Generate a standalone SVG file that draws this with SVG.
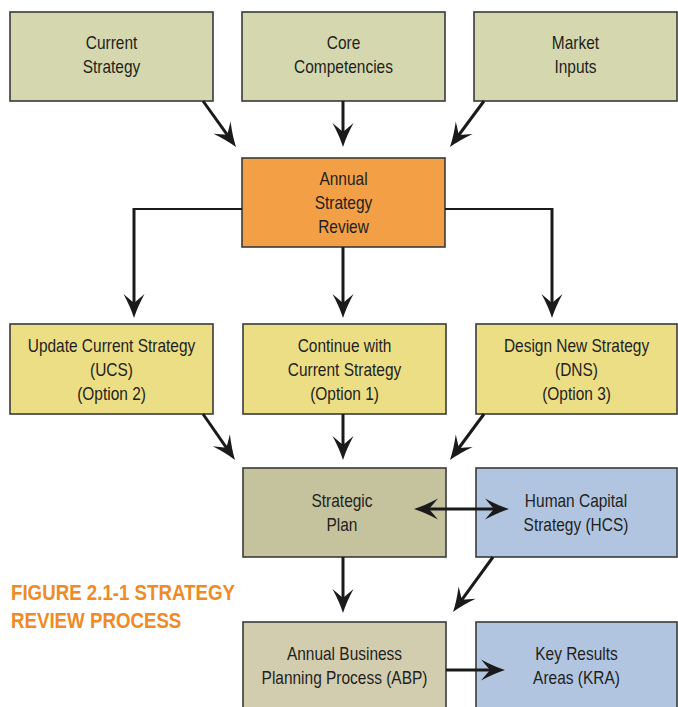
<svg xmlns="http://www.w3.org/2000/svg" width="678" height="707" viewBox="0 0 678 707">
<style>
.box{stroke:#3a3a3a;stroke-width:1.6}
.in{fill:#d5d8ae}
.asr{fill:#f29f46}
.opt{fill:#ecde85}
.sp{fill:#c5c29e}
.abp{fill:#d3cdb0}
.blue{fill:#b1c5e0}
.t{font-family:"Liberation Sans",Arial,sans-serif;font-size:18px;fill:#231f20;text-anchor:middle}
.title{font-family:"Liberation Sans",Arial,sans-serif;font-size:22px;font-weight:bold;fill:#f08a24}
.c{fill:none;stroke:#1a1a1a;stroke-width:3}
.h{fill:none;stroke:#1a1a1a;stroke-width:2}
</style>
<defs>
<marker id="ah" viewBox="-26 -11 28 22" markerWidth="28" markerHeight="22" refX="-10" refY="0" orient="auto-start-reverse" markerUnits="userSpaceOnUse">
<path d="M0,0 Q-11,-3.5 -24,-10.5 L-15,0 L-24,10.5 Q-11,3.5 0,0 Z" fill="#1a1a1a"/>
</marker>
</defs>
<g id="current-strategy">
<rect class="box in" x="10" y="12" width="203" height="89"/>
<text class="t" transform="translate(111.5,0) scale(0.86,1)"><tspan x="0" y="49">Current</tspan><tspan x="0" y="73">Strategy</tspan></text>
</g>
<g id="core-competencies">
<rect class="box in" x="242" y="12" width="203" height="89"/>
<text class="t" transform="translate(343.5,0) scale(0.86,1)"><tspan x="0" y="49">Core</tspan><tspan x="0" y="73">Competencies</tspan></text>
</g>
<g id="market-inputs">
<rect class="box in" x="474" y="12" width="203" height="89"/>
<text class="t" transform="translate(575.5,0) scale(0.86,1)"><tspan x="0" y="49">Market</tspan><tspan x="0" y="73">Inputs</tspan></text>
</g>
<g id="annual-strategy-review">
<rect class="box asr" x="242" y="158" width="203" height="89"/>
<text class="t" transform="translate(343.5,0) scale(0.86,1)"><tspan x="0" y="185">Annual</tspan><tspan x="0" y="209">Strategy</tspan><tspan x="0" y="233">Review</tspan></text>
</g>
<g id="ucs">
<rect class="box opt" x="10" y="324" width="203" height="90"/>
<text class="t" transform="translate(111.5,0) scale(0.86,1)"><tspan x="0" y="352">Update Current Strategy</tspan><tspan x="0" y="376">(UCS)</tspan><tspan x="0" y="400">(Option 2)</tspan></text>
</g>
<g id="continue">
<rect class="box opt" x="243" y="324" width="203" height="90"/>
<text class="t" transform="translate(344.5,0) scale(0.86,1)"><tspan x="0" y="352">Continue with</tspan><tspan x="0" y="376">Current Strategy</tspan><tspan x="0" y="400">(Option 1)</tspan></text>
</g>
<g id="dns">
<rect class="box opt" x="476" y="324" width="201" height="90"/>
<text class="t" transform="translate(576.5,0) scale(0.86,1)"><tspan x="0" y="352">Design New Strategy</tspan><tspan x="0" y="376">(DNS)</tspan><tspan x="0" y="400">(Option 3)</tspan></text>
</g>
<g id="strategic-plan">
<rect class="box sp" x="243" y="468" width="203" height="89"/>
<text class="t" transform="translate(342,0) scale(0.86,1)"><tspan x="0" y="507">Strategic</tspan><tspan x="0" y="531">Plan</tspan></text>
</g>
<g id="hcs">
<rect class="box blue" x="476" y="468" width="201" height="89"/>
<text class="t" transform="translate(576,0) scale(0.86,1)"><tspan x="0" y="507">Human Capital</tspan><tspan x="0" y="531">Strategy (HCS)</tspan></text>
</g>
<g id="abp">
<rect class="box abp" x="243" y="622" width="203" height="95"/>
<text class="t" transform="translate(344.5,0) scale(0.86,1)"><tspan x="0" y="660">Annual Business</tspan><tspan x="0" y="684">Planning Process (ABP)</tspan></text>
</g>
<g id="kra">
<rect class="box blue" x="476" y="622" width="201" height="95"/>
<text class="t" transform="translate(576.5,0) scale(0.86,1)"><tspan x="0" y="660">Key Results</tspan><tspan x="0" y="684">Areas (KRA)</tspan></text>
</g>
<g id="title">
<text class="title" transform="translate(11,0) scale(0.85,1)"><tspan x="0" y="600">FIGURE 2.1-1 STRATEGY</tspan><tspan x="0" y="628">REVIEW PROCESS</tspan></text>
</g>
<g id="connectors">
<line class="c" x1="203" y1="101" x2="230.2" y2="138.9" marker-end="url(#ah)"/>
<line class="c" x1="343" y1="101" x2="343" y2="137" marker-end="url(#ah)"/>
<line class="c" x1="484" y1="101" x2="455.9" y2="139" marker-end="url(#ah)"/>
<path class="h" d="M242,209 H134"/>
<line class="c" x1="134" y1="208" x2="134" y2="308" marker-end="url(#ah)"/>
<line class="c" x1="343" y1="247" x2="343" y2="308" marker-end="url(#ah)"/>
<path class="h" d="M445,209 H552"/>
<line class="c" x1="552" y1="208" x2="552" y2="308" marker-end="url(#ah)"/>
<line class="c" x1="203" y1="414" x2="229.3" y2="451.8" marker-end="url(#ah)"/>
<line class="c" x1="343" y1="414" x2="343" y2="450" marker-end="url(#ah)"/>
<line class="c" x1="484" y1="414" x2="455.9" y2="452" marker-end="url(#ah)"/>
<line class="c" x1="424" y1="509" x2="499" y2="509" marker-start="url(#ah)" marker-end="url(#ah)"/>
<line class="c" x1="343" y1="557" x2="343" y2="603" marker-end="url(#ah)"/>
<line class="c" x1="493" y1="557" x2="458.9" y2="603.9" marker-end="url(#ah)"/>
<line class="c" x1="446" y1="670" x2="495" y2="670" marker-end="url(#ah)"/>
</g>
</svg>
